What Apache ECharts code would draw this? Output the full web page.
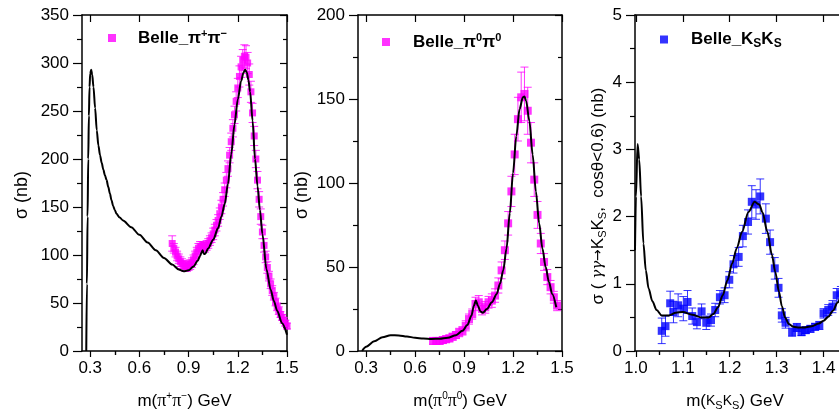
<!DOCTYPE html>
<html><head><meta charset="utf-8">
<script src="https://cdn.jsdelivr.net/npm/echarts@6/dist/echarts.min.js"></script>
<style>html,body{margin:0;padding:0;background:#fff}#c{width:839px;height:420px}</style>
</head><body><div id="c"></div>
<script>
// ---------- Panel 1: gamma gamma -> pi+ pi- ----------
const pipiX = [0.80,0.81,0.82,0.83,0.84,0.85,0.86,0.87,0.88,0.89,
  0.90,0.91,0.92,0.93,0.94,0.95,0.96,0.97,0.98,0.99,
  1.00,1.01,1.02,1.03,1.04,1.05,1.06,1.07,1.08,1.09,
  1.10,1.11,1.12,1.13,1.14,1.15,1.16,1.17,1.18,1.19,
  1.20,1.21,1.22,1.23,1.24,1.25,1.26,1.27,1.28,1.29,
  1.30,1.31,1.32,1.33,1.34,1.35,1.36,1.37,1.38,1.39,
  1.40,1.41,1.42,1.43,1.44,1.45,1.46,1.47,1.48,1.49,1.50];
const pipiY = [112,107,103,99,96,93,91,89,88,88,
  89,90,92,95,99,103,107,109,109,108,
  108,110,112,115,118,122,126,131,136,143,
  150,158,168,178,190,204,218,232,246,260,
  274,286,296,303,307,306,300,288,270,248,
  224,200,178,158,140,124,110,98,87,78,
  70,63,57,51,46,42,38,35,32,29,26];
const pipiErr = [8,5,5,5,5,5,5,5,5,5,
  5,5,5,5,5,5,5,5,5,5,
  5,5,5,5,5,6,6,6,6,6,
  7,7,7,8,8,8,9,9,9,10,
  10,11,11,11,12,12,11,11,11,10,
  10,9,9,8,8,7,7,6,6,5,
  5,5,4,4,4,4,3,3,3,3,3];
const pipiCurveX = [0.276,0.280,0.284,0.288,0.292,0.296,0.300,0.306,0.312,0.320,
  0.330,0.340,0.350,0.360,0.370,0.380,0.390,0.400,0.410,0.420,
  0.430,0.440,0.450,0.460,0.480,0.500,0.550,0.600,0.650,0.700,
  0.750,0.800,0.840,0.870,0.900,0.930,0.955,0.970,0.980,0.986,
  0.993,1.000,1.020,1.050,1.080,1.100,1.120,1.140,1.160,1.180,
  1.200,1.220,1.235,1.245,1.255,1.265,1.275,1.290,1.305,1.320,
  1.335,1.350,1.375,1.400,1.420,1.440,1.470,1.500];
const pipiCurveY = [0,70,140,200,245,275,289,293,288,275,
  253,230,214,204,196,189,183,178,171,164,
  157,151,147,143,139,136,129,121,113,105,
  97,90,85,83,84,88,94,99,103,105,
  101,101,107,116,128,140,153,174,205,236,
  262,281,290,293,290,282,270,240,200,172,
  147,122,85,64,52,42,29,17];
const pipiTicksMajor = [0.3,0.6,0.9,1.2,1.5];
const pipiTicksMinor = [0.45,0.75,1.05,1.35];

// ---------- Panel 2: gamma gamma -> pi0 pi0 ----------
const pi0X = [0.71,0.73,0.75,0.77,0.79,0.81,0.83,0.85,0.87,0.89,
  0.91,0.93,0.95,0.97,0.99,1.01,1.03,1.05,1.07,1.09,
  1.11,1.13,1.15,1.17,1.19,1.21,1.23,1.25,1.27,1.29,
  1.31,1.33,1.35,1.37,1.39,1.41,1.43,1.45,1.47];
const pi0Y = [6,6,6,6.5,7,7.5,8.5,9.5,11,12,
  15,19,22,28,29,25,26,29,30,33,
  39,48,60,76,95,117,138,151,153,143,
  124,102,81,64,53,44,38,32,27];
const pi0Err = [2,2,2,2,2,2,2,2,2.5,2.5,
  3,3,3,4,4,3.5,3.5,3.5,4,4,
  4.5,5,5.5,7,9,12,13,15,16,14,
  12,10,8,6,5,4.5,4,3.5,3];
const pi0CurveX = [0.275,0.30,0.35,0.40,0.45,0.50,0.55,0.60,0.65,0.70,0.75,0.80,0.85,0.89,0.92,0.945,0.96,0.972,0.985,1.00,1.015,1.04,1.07,1.10,1.12,1.14,1.16,1.18,1.20,1.22,1.24,1.26,1.27,1.28,1.30,1.32,1.34,1.36,1.38,1.40,1.42,1.44,1.465];
const pi0CurveY = [0,2.5,5.8,8.2,9.4,9.3,8.6,7.9,7.4,7.2,7.3,7.9,9.4,12,15.5,21,27,30,27,23.5,22.8,25,29,34,40,48,61,82,106,128,144,151,151.5,149,137,117,95,76,61,50,41,34,26];

// ---------- Panel 3: gamma gamma -> Ks Ks ----------
const ksX = [1.055,1.063,1.073,1.080,1.090,1.101,1.110,1.120,1.130,1.140,
  1.150,1.160,1.169,1.179,1.189,1.199,1.208,1.219,1.228,1.239,
  1.247,1.256,1.265,1.277,1.286,1.296,1.304,1.311,1.319,1.333,
  1.343,1.353,1.362,1.372,1.382,1.391,1.400,1.410,1.419,1.428,1.437];
const ksY = [0.30,0.37,0.71,0.58,0.68,0.63,0.73,0.52,0.43,0.59,
  0.42,0.46,0.61,0.80,0.83,1.06,1.29,1.40,1.71,1.92,
  2.22,2.18,2.30,1.97,1.62,1.23,0.94,0.53,0.42,0.28,
  0.35,0.28,0.31,0.33,0.36,0.38,0.56,0.61,0.66,0.83,0.86];
const ksErr = [0.19,0.15,0.18,0.16,0.17,0.18,0.17,0.12,0.10,0.11,
  0.10,0.09,0.10,0.10,0.11,0.12,0.13,0.14,0.16,0.18,
  0.24,0.22,0.26,0.22,0.18,0.16,0.14,0.10,0.08,0.06,
  0.06,0.05,0.05,0.05,0.05,0.06,0.07,0.08,0.09,0.10,0.10];
const ksCurveX = [0.998,1.000,1.0035,1.007,1.011,1.016,1.021,1.027,1.035,1.044,1.055,1.070,1.085,1.100,1.120,1.140,1.155,1.165,1.175,1.185,1.195,1.205,1.215,1.226,1.240,1.253,1.263,1.270,1.280,1.290,1.297,1.305,1.311,1.318,1.326,1.336,1.348,1.360,1.375,1.390,1.400,1.410,1.420,1.430,1.440,1.450];
const ksCurveY = [1.5,2.3,3.08,2.85,2.3,1.6,1.2,0.93,0.74,0.61,0.53,0.53,0.57,0.58,0.54,0.50,0.50,0.55,0.65,0.83,1.05,1.30,1.53,1.77,2.07,2.22,2.18,2.06,1.78,1.43,1.18,0.88,0.67,0.50,0.40,0.36,0.35,0.35,0.37,0.41,0.45,0.51,0.60,0.72,0.84,0.97];
const ksTicksMajor = [1.0,1.1,1.2,1.3,1.4];
const ksTicksMinor = [1.05,1.15,1.25,1.35,1.45];

// ---------- build ----------
const FONT = 'Liberation Sans, Arial, sans-serif';
const SERIF = 'Liberation Serif, DejaVu Serif, serif';
const zip3 = (xs, ys, es) => xs.map((x, i) => [x, ys[i], es[i]]);
const zip2 = (xs, ys) => xs.map((x, i) => [x, ys[i]]);

function mkRich(fs, spacer) {
  return {
    t: {fontFamily: FONT, fontSize: fs, color: '#000', lineHeight: 20},
    g: {fontFamily: SERIF, fontSize: fs + 1, color: '#000', lineHeight: 20},
    gi: {fontFamily: 'DejaVu Serif', fontSize: fs - 2, fontStyle: 'italic', color: '#000', lineHeight: 20},
    ar: {fontFamily: 'DejaVu Sans', fontSize: fs - 3, color: '#000', lineHeight: 20},
    k: {fontFamily: FONT, fontSize: fs - 3, color: '#000', lineHeight: 20},
    sup: {fontFamily: FONT, fontSize: 10, color: '#000', lineHeight: 11, verticalAlign: 'top'},
    sub: {fontFamily: FONT, fontSize: 11, color: '#000', lineHeight: 11, verticalAlign: 'bottom'},
    sp: {width: spacer || 0, lineHeight: 20}
  };
}

const grids = [
  {left: 82, top: 15, width: 205, height: 336},
  {left: 358, top: 15, width: 204, height: 336},
  {left: 635, top: 15, width: 212, height: 336}
].map(g => Object.assign(g, {outerBoundsMode: 'none', containLabel: false}));

const lineCol = {color: '#000', width: 1.5};
const tickCol = {color: '#000', width: 1.2};

function makeX(gi, min, max, major, minor, name, nameGap, namePad) {
  const c = {type: 'value', gridIndex: gi, min, max, splitLine: {show: false}};
  return [
    Object.assign({}, c, {position: 'bottom',
      axisLine: {show: true, onZero: false, lineStyle: lineCol},
      axisTick: {show: true, inside: false, length: 6, customValues: major, lineStyle: tickCol},
      axisLabel: {show: true, customValues: major, margin: 9, fontSize: 17, fontFamily: FONT, color: '#000',
        formatter: v => (+v).toFixed(1)},
      name, nameLocation: 'middle', nameGap,
      nameTextStyle: {rich: mkRich(17), padding: namePad || 0}}),
    Object.assign({}, c, {position: 'bottom', axisLine: {show: false},
      axisTick: {show: true, inside: false, length: 4, customValues: minor, lineStyle: tickCol},
      axisLabel: {show: false}}),
    Object.assign({}, c, {position: 'top', axisLine: {show: true, onZero: false, lineStyle: lineCol},
      axisTick: {show: true, inside: true, length: 7, customValues: major, lineStyle: tickCol},
      axisLabel: {show: false}}),
    Object.assign({}, c, {position: 'top', axisLine: {show: false},
      axisTick: {show: true, inside: true, length: 4, customValues: minor, lineStyle: tickCol},
      axisLabel: {show: false}})
  ];
}
function makeY(gi, min, max, interval, name, nameGap, nameFs, spacer) {
  const c = {type: 'value', gridIndex: gi, min, max, interval, splitLine: {show: false}};
  return [
    Object.assign({}, c, {position: 'left',
      axisLine: {show: true, onZero: false, lineStyle: lineCol},
      axisTick: {show: true, inside: false, length: 9, lineStyle: tickCol},
      minorTick: {show: true, splitNumber: 2, length: 5, lineStyle: tickCol},
      axisLabel: {show: true, margin: 13, fontSize: 17, fontFamily: FONT, color: '#000'},
      name, nameLocation: 'middle', nameGap, nameRotate: 90,
      nameTextStyle: {rich: mkRich(nameFs, spacer)}}),
    Object.assign({}, c, {position: 'right',
      axisLine: {show: true, onZero: false, lineStyle: lineCol},
      axisTick: {show: true, inside: true, length: 7, lineStyle: tickCol},
      minorTick: {show: true, splitNumber: 2, length: 4, lineStyle: tickCol},
      axisLabel: {show: false}})
  ];
}

const xAxis = [].concat(
  makeX(0, 0.25, 1.5, pipiTicksMajor, pipiTicksMinor, '{t|m(}{g|π}{sup|+}{g|π}{sup|−}{t|) GeV}', 40),
  makeX(1, 0.25, 1.5, pipiTicksMajor, pipiTicksMinor, '{t|m(}{g|π}{sup|0}{g|π}{sup|0}{t|) GeV}', 40),
  makeX(2, 0.998, 1.45, ksTicksMajor, ksTicksMinor, '{t|m(}{k|K}{sub|S}{k|K}{sub|S}{t|) GeV}', 40, [0, 12, 0, 0])
);
const yAxis = [].concat(
  makeY(0, 0, 350, 50, '{t|σ (nb)}{sp|}', 50, 18, 24),
  makeY(1, 0, 200, 50, '{t|σ (nb)}{sp|}', 46, 18, 24),
  makeY(2, 0, 5, 1, '{t|σ ( }{gi|γγ}{ar|→}{t|K}{sub|S}{t|K}{sub|S}{t|,  cosθ<0.6) (nb)}{sp|}', 27, 17, 26)
);

function errSeries(xi, yi, data, color, hw) {
  return {
    type: 'custom', xAxisIndex: xi, yAxisIndex: yi, data, z: 2, silent: true,
    encode: {x: 0, y: 1},
    renderItem(params, api) {
      const x = api.value(0), y = api.value(1), e = api.value(2);
      const t = api.coord([x, y + e]), b = api.coord([x, y - e]);
      const st = {stroke: color, lineWidth: 1, opacity: 0.8};
      return {type: 'group', children: [
        {type: 'line', shape: {x1: t[0], y1: t[1], x2: b[0], y2: b[1]}, style: st},
        {type: 'line', shape: {x1: t[0] - hw, y1: t[1], x2: t[0] + hw, y2: t[1]}, style: st},
        {type: 'line', shape: {x1: b[0] - hw, y1: b[1], x2: b[0] + hw, y2: b[1]}, style: st}
      ]};
    }
  };
}
function dataSeries(name, xi, yi, data, color, size) {
  return {type: 'scatter', name, xAxisIndex: xi, yAxisIndex: yi, data, symbol: 'rect',
    symbolSize: size, itemStyle: {color}, z: 3, silent: true};
}
function curveSeries(xi, yi, data) {
  return {type: 'line', xAxisIndex: xi, yAxisIndex: yi, data, showSymbol: false, smooth: 0.3,
    smoothMonotone: 'x', lineStyle: {color: '#000', width: 2}, z: 5, silent: true, clip: true};
}

const MAG = '#ff00ff', BLUE = '#0000ff';
const series = [
  errSeries(0, 0, zip3(pipiX, pipiY, pipiErr), MAG, 4),
  dataSeries('pipi', 0, 0, zip2(pipiX, pipiY), MAG, 7),
  curveSeries(0, 0, zip2(pipiCurveX, pipiCurveY)),
  errSeries(4, 2, zip3(pi0X, pi0Y, pi0Err), MAG, 4),
  dataSeries('pi0pi0', 4, 2, zip2(pi0X, pi0Y), MAG, 8),
  curveSeries(4, 2, zip2(pi0CurveX, pi0CurveY)),
  errSeries(8, 4, zip3(ksX, ksY, ksErr), BLUE, 4),
  dataSeries('ksks', 8, 4, zip2(ksX, ksY), BLUE, 8),
  curveSeries(8, 4, zip2(ksCurveX, ksCurveY))
];

const legRich = (pad) => ({
  pad: {width: pad},
  b: {fontFamily: FONT, fontWeight: 'bold', fontSize: 17, color: '#000', lineHeight: 20},
  sp: {fontFamily: FONT, fontWeight: 'bold', fontSize: 11, color: '#000', lineHeight: 11, verticalAlign: 'top'},
  sb: {fontFamily: FONT, fontWeight: 'bold', fontSize: 12, color: '#000', lineHeight: 12, verticalAlign: 'bottom'}
});
const legendLabels = {
  pipi: '{pad|}{b|Belle_π}{sp|+}{b|π}{sp|−}',
  pi0pi0: '{pad|}{b|Belle_π}{sp|0}{b|π}{sp|0}',
  ksks: '{pad|}{b|Belle_K}{sb|S}{b|K}{sb|S}'
};
const legendBase = {padding: 0, itemWidth: 8, itemHeight: 8, icon: 'rect', selectedMode: false,
  formatter: n => legendLabels[n]};
const legend = [
  Object.assign({}, legendBase, {data: ['pipi'], left: 108, top: 28, textStyle: {rich: legRich(17)}}),
  Object.assign({}, legendBase, {data: ['pi0pi0'], left: 382, top: 32, textStyle: {rich: legRich(18)}}),
  Object.assign({}, legendBase, {data: ['ksks'], left: 660, top: 31, textStyle: {rich: legRich(18)}})
];

const chart = echarts.init(document.getElementById('c'), null, {renderer: 'canvas'});
chart.setOption({animation: false, backgroundColor: '#fff', grid: grids, xAxis, yAxis, series, legend});
</script>
</body></html>
